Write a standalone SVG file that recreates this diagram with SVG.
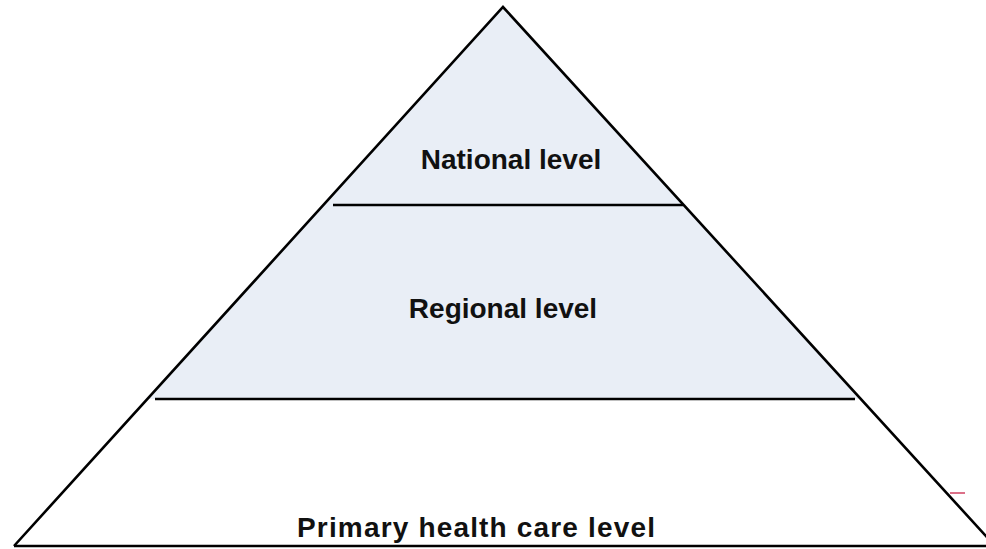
<svg xmlns="http://www.w3.org/2000/svg" width="986" height="549" viewBox="0 0 986 549">
<style>
.edge{stroke:#000;stroke-width:2.6;fill:none;stroke-linejoin:miter}
.lbl{font-family:"Liberation Sans",Arial,sans-serif;font-weight:bold;font-size:28px;fill:#111;text-anchor:middle}
</style>
<rect width="986" height="549" fill="#fff"/>
<g id="national-regional-fill">
<polygon points="503,7 148,399 860,399" fill="#e9eef6"/>
</g>
<g id="pyramid">
<polyline class="edge" points="14,546 503,7 995,546"/>
<line class="edge" x1="14" y1="546" x2="986" y2="546"/>
</g>
<g id="connectors">
<line class="edge" x1="333" y1="205" x2="683" y2="205"/>
<line class="edge" x1="155" y1="399" x2="855" y2="399"/>
</g>
<g id="national">
<text class="lbl" x="511" y="169">National level</text>
</g>
<g id="regional">
<text class="lbl" x="503" y="318">Regional level</text>
</g>
<g id="primary">
<text class="lbl" x="476" y="537" textLength="358" lengthAdjust="spacing">Primary health care level</text>
</g>
<line x1="950" y1="493" x2="965" y2="493" stroke="#d04060" stroke-width="1.5"/>
</svg>
